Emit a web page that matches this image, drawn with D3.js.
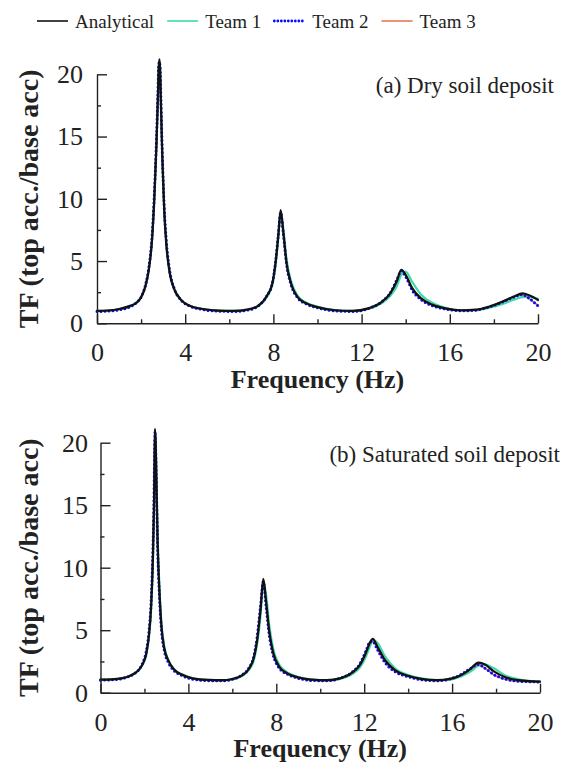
<!DOCTYPE html>
<html>
<head>
<meta charset="utf-8">
<script src="https://cdn.jsdelivr.net/npm/d3@7"></script>
<style>
  body { margin: 0; background: #fff; }
  svg { display: block; }
  text { font-family: "Liberation Serif", "Times New Roman", serif; fill: #222; }
</style>
</head>
<body>
<svg id="chart" width="563" height="769"></svg>
<script>
// ---- data -------------------------------------------------------------
const seriesNames = ["Analytical", "Team 1", "Team 2", "Team 3"];
const xTickValues = [0, 4, 8, 12, 16, 20];
const xMinorTicks = [2, 6, 10, 14, 18];
const yTickValues = [0, 5, 10, 15, 20];
const yMinorTicks = [2.5, 7.5, 12.5, 17.5];
const panelTitles = ["(a) Dry soil deposit", "(b) Saturated soil deposit"];

// (a) dry soil deposit
const dryFreq = [0, 0.5, 1, 1.5, 1.8, 2.0, 2.2, 2.35, 2.5, 2.6, 2.7, 2.76, 2.8, 2.83, 2.86,
  2.9, 2.96, 3.05, 3.15, 3.3, 3.5, 3.8, 4.2, 4.8, 5.5, 6.2, 6.8, 7.3, 7.7, 7.95,
  8.1, 8.22, 8.33, 8.45, 8.6, 8.8, 9.1, 9.5, 10, 10.8, 11.6, 12.3, 12.9, 13.3, 13.6,
  13.8, 14.0, 14.3, 14.7, 15.2, 15.8, 16.5, 17.2, 17.8, 18.4, 18.9, 19.3, 19.6, 20];
const dryAnalytical = [1.00, 1.03, 1.15, 1.40, 1.65, 2.10, 3.00, 4.30, 6.80, 10.0,
  14.5, 18.0, 20.5, 21.2, 20.5, 17.5, 13.5, 9.0, 6.2, 4.0,
  2.75, 1.90, 1.40, 1.15, 1.02, 1.00, 1.10, 1.40, 2.20, 3.20,
  4.90, 7.00, 9.10, 7.30, 4.80, 3.20, 2.10, 1.60, 1.30, 1.05,
  1.00, 1.20, 1.70, 2.40, 3.40, 4.30, 3.90, 2.80, 2.00, 1.50,
  1.20, 1.05, 1.10, 1.35, 1.75, 2.15, 2.40, 2.25, 1.87];
const dryTeam1 = [1.00, 1.03, 1.13, 1.35, 1.70, 2.10, 3.00, 4.30, 6.80, 10.0,
  14.5, 18.0, 20.3, 21.0, 20.5, 17.8, 13.5, 9.1, 6.3, 4.1,
  2.80, 1.90, 1.42, 1.15, 1.03, 1.00, 1.08, 1.36, 2.10, 3.05,
  4.70, 6.80, 9.00, 7.60, 5.10, 3.40, 2.20, 1.65, 1.33, 1.07,
  1.00, 1.15, 1.60, 2.20, 3.00, 3.90, 4.15, 3.30, 2.30, 1.65,
  1.25, 1.05, 1.05, 1.25, 1.55, 1.90, 2.10, 2.12, 1.97];
const dryTeam2 = [0.95, 0.98, 1.08, 1.32, 1.68, 2.10, 3.10, 4.50, 7.10, 10.4,
  15.0, 18.5, 20.8, 21.0, 20.6, 18.0, 13.8, 9.3, 6.5, 4.2,
  2.80, 1.88, 1.40, 1.10, 0.98, 0.95, 1.05, 1.38, 2.20, 3.20,
  5.00, 7.10, 8.90, 7.20, 4.70, 3.10, 2.05, 1.55, 1.25, 1.00,
  0.95, 1.18, 1.72, 2.45, 3.50, 4.20, 3.75, 2.65, 1.90, 1.42,
  1.15, 1.00, 1.06, 1.32, 1.72, 2.10, 2.30, 2.00, 1.40];
const dryTeam3 = [1.00, 1.03, 1.13, 1.35, 1.67, 2.05, 3.00, 4.30, 6.90, 10.1,
  14.6, 18.1, 20.4, 21.0, 20.4, 17.6, 13.3, 9.0, 6.3, 4.1,
  2.75, 1.90, 1.42, 1.13, 1.01, 0.98, 1.08, 1.38, 2.18, 3.18,
  4.90, 7.00, 9.00, 7.25, 4.75, 3.15, 2.08, 1.58, 1.28, 1.03,
  0.98, 1.18, 1.70, 2.42, 3.45, 4.25, 3.80, 2.70, 1.95, 1.46,
  1.17, 1.02, 1.08, 1.33, 1.74, 2.12, 2.30, 1.95, 1.45];

// (b) saturated soil deposit
const satFreq = [0, 0.5, 1, 1.3, 1.6, 1.8, 1.95, 2.08, 2.2, 2.3, 2.38, 2.43, 2.46, 2.48, 2.51,
  2.55, 2.6, 2.68, 2.77, 2.9, 3.08, 3.35, 3.7, 4.2, 4.9, 5.5, 6.0, 6.4, 6.75, 6.98,
  7.13, 7.28, 7.41, 7.53, 7.68, 7.86, 8.13, 8.5, 8.95, 9.6, 10.3, 10.9, 11.45, 11.8, 12.08,
  12.26, 12.39, 12.6, 12.95, 13.4, 14.0, 14.6, 15.3, 15.9, 16.4, 16.8, 17.2, 17.5, 17.9, 18.4,
  19.0, 19.5, 20];
const satAnalytical = [1.05, 1.07, 1.17, 1.32, 1.60, 1.95, 2.40, 3.10, 4.50, 6.80,
  10.5, 14.5, 18.5, 21.1, 20.0, 16.5, 12.0, 8.2, 5.4, 3.6,
  2.60, 1.85, 1.45, 1.15, 1.02, 1.00, 1.10, 1.35, 1.90, 2.80,
  4.20, 6.60, 9.10, 7.40, 4.90, 3.20, 2.10, 1.55, 1.25, 1.05,
  1.00, 1.15, 1.60, 2.20, 3.20, 4.00, 4.30, 3.70, 2.60, 1.80,
  1.35, 1.10, 1.00, 1.10, 1.40, 1.85, 2.40, 2.25, 1.70, 1.25,
  1.00, 0.93, 0.88];
const satTeam1 = [1.05, 1.07, 1.17, 1.32, 1.58, 1.92, 2.35, 3.00, 4.35, 6.50,
  10.0, 14.0, 18.0, 20.8, 20.2, 17.0, 12.6, 8.6, 5.6, 3.7,
  2.65, 1.88, 1.47, 1.16, 1.02, 0.98, 1.06, 1.30, 1.80, 2.60,
  3.90, 6.10, 8.80, 7.90, 5.40, 3.50, 2.25, 1.62, 1.28, 1.06,
  0.98, 1.10, 1.48, 2.00, 2.90, 3.70, 4.20, 4.00, 2.90, 1.95,
  1.42, 1.14, 1.00, 1.05, 1.30, 1.65, 2.15, 2.25, 1.95, 1.40,
  1.08, 0.95, 0.88];
const satTeam2 = [1.00, 1.03, 1.13, 1.30, 1.60, 1.98, 2.50, 3.30, 4.80, 7.20,
  11.2, 15.3, 19.2, 20.9, 19.6, 16.0, 11.6, 7.8, 5.1, 3.4,
  2.45, 1.75, 1.38, 1.08, 0.96, 0.95, 1.08, 1.38, 1.98, 2.95,
  4.50, 6.90, 8.90, 7.00, 4.60, 3.00, 1.98, 1.48, 1.18, 0.98,
  0.96, 1.15, 1.65, 2.30, 3.35, 4.05, 4.10, 3.45, 2.40, 1.68,
  1.28, 1.04, 0.96, 1.10, 1.45, 1.90, 2.25, 1.95, 1.45, 1.10,
  0.92, 0.88, 0.86];
const satTeam3 = [1.05, 1.07, 1.17, 1.32, 1.60, 1.96, 2.45, 3.20, 4.65, 7.00,
  10.8, 14.8, 18.8, 21.0, 19.8, 16.2, 11.8, 8.0, 5.3, 3.5,
  2.55, 1.82, 1.42, 1.12, 1.00, 0.98, 1.08, 1.36, 1.95, 2.90,
  4.35, 6.80, 9.00, 7.10, 4.70, 3.05, 2.02, 1.50, 1.20, 1.00,
  0.98, 1.15, 1.62, 2.25, 3.30, 4.05, 4.20, 3.50, 2.45, 1.72,
  1.30, 1.06, 0.98, 1.10, 1.42, 1.88, 2.25, 1.95, 1.42, 1.08,
  0.92, 0.88, 0.86];

// ---- styling ----------------------------------------------------------
const styles = {
  "Analytical": { color: "#111111", width: 2.2, dash: null },
  "Team 1":     { color: "#3fdaa8", width: 2.2, dash: null },
  "Team 2":     { color: "#0a0aff", width: 3.0, dash: "0 4" },
  "Team 3":     { color: "#e27a52", width: 1.6, dash: null }
};
const drawOrder = ["Team 1", "Team 3", "Team 2", "Analytical"];

const panels = [
  { title: panelTitles[0], freq: dryFreq,
    values: { "Analytical": dryAnalytical, "Team 1": dryTeam1, "Team 2": dryTeam2, "Team 3": dryTeam3 },
    left: 97, right: 538, top: 74.3, bottom: 323.3, titleX: 554, titleY: 93, labelPad: 14 },
  { title: panelTitles[1], freq: satFreq,
    values: { "Analytical": satAnalytical, "Team 1": satTeam1, "Team 2": satTeam2, "Team 3": satTeam3 },
    left: 100.5, right: 540, top: 442.7, bottom: 692.7, titleX: 560, titleY: 462, labelPad: 12.5 }
];

const svg = d3.select("#chart");

// ---- legend -----------------------------------------------------------
const legend = svg.append("g").attr("transform", "translate(37,21)");
let lx = 0;
seriesNames.forEach(name => {
  const s = styles[name];
  legend.append("line")
    .attr("x1", lx).attr("x2", lx + 31).attr("y1", 0).attr("y2", 0)
    .attr("stroke", s.color)
    .attr("stroke-width", name === "Team 2" ? 2.8 : 1.6)
    .attr("stroke-linecap", s.dash ? "round" : "butt")
    .attr("stroke-dasharray", s.dash ? "0 3.5" : null);
  const t = legend.append("text")
    .attr("x", lx + 38).attr("y", 7)
    .attr("font-size", 19)
    .text(name);
  lx += 38 + t.node().getComputedTextLength() + 13;
});

// ---- panels -----------------------------------------------------------
panels.forEach(p => {
  const x = d3.scaleLinear().domain([0, 20]).range([p.left, p.right]);
  const y = d3.scaleLinear().domain([0, 20]).range([p.bottom, p.top]);
  const g = svg.append("g");

  // curves
  drawOrder.forEach(name => {
    const s = styles[name];
    const vals = p.values[name];
    const pts = p.freq.map((f, i) => [f, vals[i]]);
    const line = d3.line()
      .x(d => x(d[0])).y(d => y(d[1]))
      .curve(d3.curveMonotoneX);
    g.append("path")
      .attr("d", line(pts))
      .attr("fill", "none")
      .attr("stroke", s.color)
      .attr("stroke-width", s.width)
      .attr("stroke-linejoin", "round")
      .attr("stroke-linecap", "round")
      .attr("stroke-dasharray", s.dash);
  });

  // x axis: major + minor inward ticks
  const xAxisG = g.append("g").attr("transform", `translate(0,${p.bottom})`);
  xAxisG.call(d3.axisBottom(x).tickValues(xTickValues).tickFormat(d3.format("d"))
    .tickSizeInner(-9).tickSizeOuter(0).tickPadding(19.5));
  xAxisG.append("g").call(d3.axisBottom(x).tickValues(xMinorTicks).tickFormat("")
    .tickSizeInner(-4).tickSizeOuter(0))
    .select(".domain").remove();

  // y axis
  const yAxisG = g.append("g").attr("transform", `translate(${p.left},0)`);
  yAxisG.call(d3.axisLeft(y).tickValues(yTickValues).tickFormat(d3.format("d"))
    .tickSizeInner(-10).tickSizeOuter(0).tickPadding(p.labelPad));
  yAxisG.append("g").call(d3.axisLeft(y).tickValues(yMinorTicks).tickFormat("")
    .tickSizeInner(-4).tickSizeOuter(0))
    .select(".domain").remove();

  g.selectAll(".domain, .tick line").attr("stroke", "#222").attr("stroke-width", 1.4);
  g.selectAll(".tick text")
    .attr("font-family", "Liberation Serif, Times New Roman, serif")
    .attr("font-size", 26).attr("fill", "#222");

  // axis titles
  g.append("text")
    .attr("x", (p.left + p.right) / 2).attr("y", p.bottom + 64.5)
    .attr("text-anchor", "middle")
    .attr("font-size", 26).attr("font-weight", "bold")
    .text("Frequency (Hz)");
  g.append("text")
    .attr("transform", `translate(38,${(p.top + p.bottom) / 2}) rotate(-90)`)
    .attr("text-anchor", "middle")
    .attr("font-size", 28).attr("font-weight", "bold")
    .text("TF (top acc./base acc)");

  // panel caption
  g.append("text")
    .attr("x", p.titleX).attr("y", p.titleY)
    .attr("text-anchor", "end")
    .attr("font-size", 23)
    .text(p.title);
});
</script>
</body>
</html>
